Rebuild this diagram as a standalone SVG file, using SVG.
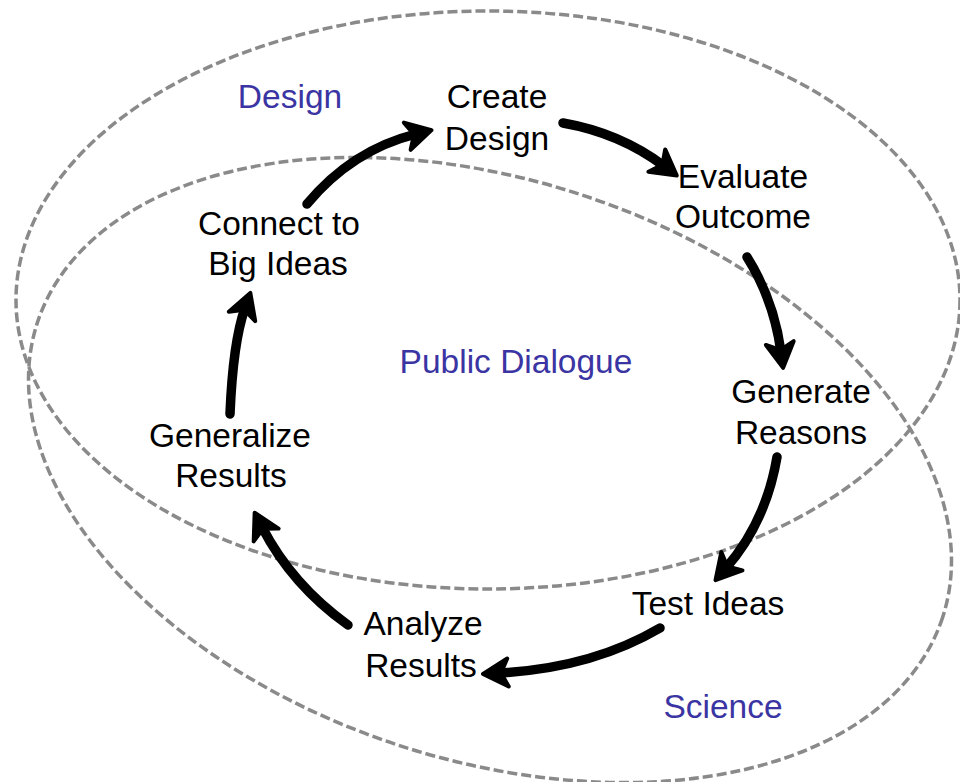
<svg xmlns="http://www.w3.org/2000/svg" width="960" height="782" viewBox="0 0 960 782">
<style>
.region{fill:none;stroke:#8a8a8a;stroke-width:3.5;stroke-dasharray:10 4}
.lbl{font-family:"Liberation Sans",Arial,sans-serif;font-size:33.5px;fill:#000;text-anchor:middle}
.area{font-family:"Liberation Sans",Arial,sans-serif;font-size:33.5px;fill:#3b34a3;text-anchor:middle}
.arr{fill:none;stroke:#000;stroke-width:9.5;stroke-linecap:round}
</style>
<defs>
<marker id="head" markerUnits="userSpaceOnUse" orient="auto" markerWidth="50" markerHeight="50" viewBox="-25 -25 50 50" refX="0" refY="0" overflow="visible">
<path d="M-9,-14 L16,0 L-9,14 L-2,0 Z" fill="#000" stroke="#000" stroke-width="4" stroke-linejoin="round"/>
</marker>
</defs>
<rect width="960" height="782" fill="#fff"/>
<g id="regions">
<ellipse id="design-region" class="region" cx="488" cy="300" rx="472" ry="289"/>
<ellipse id="science-region" class="region" cx="490" cy="470" rx="476" ry="290" transform="rotate(18 490 470)"/>
</g>
<g id="connectors">
<path class="arr" d="M307,204 Q352,150 416,134" marker-end="url(#head)"/>
<path class="arr" d="M563,123 Q620,133 664,166" marker-end="url(#head)"/>
<path class="arr" d="M747,257 Q774,300 781,352" marker-end="url(#head)"/>
<path class="arr" d="M777,457 Q766,522 726,568" marker-end="url(#head)"/>
<path class="arr" d="M660,628 Q592,668 499,673" marker-end="url(#head)"/>
<path class="arr" d="M348,625 Q292,585 262,527" marker-end="url(#head)"/>
<path class="arr" d="M230,414 Q233,342 245,308" marker-end="url(#head)"/>
</g>
<g id="label-design"><text class="area" x="290" y="108">Design</text></g>
<g id="label-public"><text class="area" x="516" y="373">Public Dialogue</text></g>
<g id="label-science"><text class="area" x="723" y="718">Science</text></g>
<g id="node-create"><text class="lbl" x="497" y="108">Create</text><text class="lbl" x="497" y="150">Design</text></g>
<g id="node-evaluate"><text class="lbl" x="743" y="188">Evaluate</text><text class="lbl" x="743" y="228">Outcome</text></g>
<g id="node-generate"><text class="lbl" x="801" y="403">Generate</text><text class="lbl" x="801" y="444">Reasons</text></g>
<g id="node-test"><text class="lbl" x="708" y="615">Test Ideas</text></g>
<g id="node-analyze"><text class="lbl" x="423" y="635">Analyze</text><text class="lbl" x="421" y="677">Results</text></g>
<g id="node-generalize"><text class="lbl" x="230" y="447">Generalize</text><text class="lbl" x="231" y="487">Results</text></g>
<g id="node-connect"><text class="lbl" x="279" y="235">Connect to</text><text class="lbl" x="278" y="275">Big Ideas</text></g>
</svg>
